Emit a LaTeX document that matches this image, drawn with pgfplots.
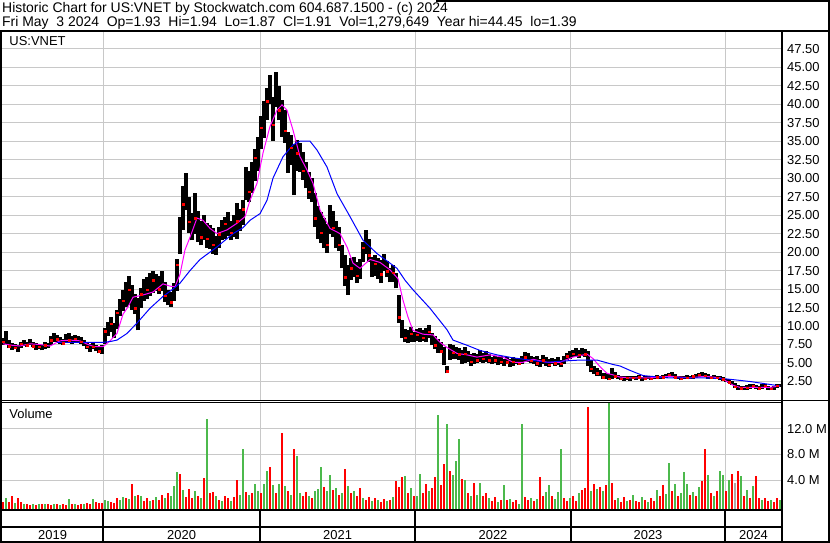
\documentclass[border=0pt]{standalone}
\usepackage{pgfplots}
\pgfplotsset{compat=1.18}
\usepackage{pgfplotstable}
\usepackage{fontspec}
\setmainfont{Liberation Sans}
\definecolor{gridgray}{RGB}{200,200,200}
\definecolor{volgreen}{RGB}{76,185,76}
\definecolor{volred}{RGB}{255,0,0}
\definecolor{volgray}{RGB}{170,170,170}
\definecolor{mablue}{RGB}{0,0,255}
\definecolor{mamag}{RGB}{255,0,255}

\pgfplotstableread{
x lo hi cl
3 7.5 8.4 7.9
6 7.6 9.3 8.2
9 7.0 8.1 7.3
12 6.8 7.7 7.0
15 6.9 7.6 7.1
18 6.5 7.4 6.8
21 7.0 7.9 7.6
24 7.3 8.1 7.6
27 7.2 7.9 7.4
30 7.4 8.2 7.8
33 7.1 7.9 7.3
36 6.8 7.7 7.0
39 6.9 7.6 7.2
42 6.7 7.5 6.9
45 6.9 7.8 7.4
48 7.0 7.7 7.2
51 7.5 8.6 8.1
54 7.9 9.0 8.6
57 7.9 8.8 8.2
60 7.6 8.5 7.9
63 7.5 8.3 7.7
66 7.8 8.9 8.4
69 7.7 9.0 8.1
72 7.6 8.7 8.0
75 7.9 8.8 8.3
78 7.8 8.6 8.1
81 7.6 8.5 7.9
84 7.3 8.1 7.5
87 6.9 7.8 7.2
90 6.5 7.6 6.8
93 6.9 7.7 7.2
96 6.6 7.4 6.9
99 6.3 7.2 6.6
102 6.2 7.4 7.0
105 7.6 9.8 9.3
108 8.6 10.6 9.8
111 9.2 11.2 10.3
114 8.4 10.4 9.0
117 9.6 12.2 11.8
120 11.4 13.7 12.6
123 12.0 14.9 13.4
126 12.6 16.0 14.6
129 12.9 16.8 14.9
132 12.2 15.6 13.1
135 11.6 14.4 12.4
138 9.4 13.8 12.8
141 12.4 15.2 14.3
144 13.4 16.4 15.1
147 13.6 16.6 14.9
150 14.0 17.2 15.6
153 14.5 17.5 16.2
156 14.8 17.1 15.4
159 14.4 16.7 15.0
162 14.8 17.4 16.3
165 13.3 15.9 14.1
168 12.8 14.9 13.5
171 12.6 14.6 13.2
174 13.4 15.8 14.9
177 14.8 19.0 18.3
180 19.8 24.7 23.8
183 23.0 29.0 26.5
186 25.7 30.7 27.3
189 22.6 27.4 24.1
192 21.6 25.3 22.8
195 22.4 28.0 24.6
198 21.4 25.6 22.3
201 20.9 24.2 22.0
204 21.6 25.0 23.1
207 20.6 24.0 21.8
210 20.4 23.6 21.2
213 19.8 23.2 21.0
216 19.6 22.2 20.3
219 20.6 23.4 22.4
222 21.6 24.4 23.2
225 21.8 24.8 23.8
228 22.2 25.4 24.0
231 21.6 24.2 22.6
234 22.0 25.0 23.4
237 21.8 26.6 24.2
240 22.8 25.8 24.9
243 23.6 27.0 25.8
246 27.0 31.5 29.0
249 26.8 31.0 28.2
252 28.0 32.2 30.6
255 29.6 34.0 32.8
258 31.0 35.6 34.2
261 34.0 38.4 36.8
264 35.4 40.4 38.6
267 37.8 42.2 40.4
270 40.0 43.9 41.5
273 35.0 41.0 37.2
276 39.6 44.4 42.4
279 37.8 42.4 39.2
282 35.6 40.6 37.2
285 34.8 39.2 36.4
288 30.7 36.2 32.4
291 31.8 35.8 34.1
294 27.7 34.6 31.5
297 31.0 35.1 33.4
300 30.8 34.8 32.2
303 29.8 33.6 31.0
306 28.6 32.2 29.4
309 27.2 30.8 28.2
312 26.8 30.0 27.6
315 23.4 28.0 24.6
318 21.8 26.2 23.2
321 21.2 25.4 22.6
324 20.6 24.6 21.4
327 19.9 23.8 21.0
330 22.4 26.4 24.6
333 22.0 25.6 23.3
336 20.6 24.2 21.6
339 20.2 23.4 21.0
342 17.8 21.0 18.6
345 15.4 19.6 16.6
348 14.2 18.2 15.8
351 16.2 19.2 17.8
354 16.6 19.4 17.6
357 15.8 18.6 16.8
360 16.4 19.0 17.8
363 18.6 21.4 20.6
366 19.8 23.0 21.8
369 18.6 21.8 19.6
372 16.6 19.4 17.2
375 16.8 19.6 18.4
378 16.4 19.2 17.6
381 15.8 18.9 17.0
384 17.4 19.7 18.6
387 16.6 18.8 17.4
390 15.9 17.9 16.6
393 16.0 18.2 17.2
396 15.1 17.2 15.6
399 10.4 14.2 11.2
402 8.4 10.8 9.2
405 7.8 9.6 8.4
408 7.7 9.4 8.2
411 7.9 9.9 9.0
414 7.8 9.2 8.2
417 8.0 9.6 8.8
420 7.9 9.7 9.2
423 8.0 9.4 8.4
426 7.8 9.8 8.9
429 8.4 10.1 9.2
432 7.4 9.0 7.9
435 6.9 8.6 7.4
438 6.4 8.2 7.0
441 6.3 7.8 6.6
444 4.7 7.1 5.2
447 3.6 4.6 3.9
450 5.4 7.6 6.8
453 5.6 7.4 6.4
456 5.5 7.2 6.0
459 5.4 7.0 6.2
462 4.9 6.8 5.6
465 5.0 7.1 6.3
468 5.2 6.6 5.8
471 4.6 6.2 5.2
474 4.8 6.4 5.6
477 5.0 6.2 5.4
480 5.2 6.7 6.0
483 5.0 6.4 5.6
486 5.2 6.6 6.0
489 5.0 6.2 5.4
492 4.8 5.8 5.2
495 5.0 6.0 5.4
498 4.7 5.8 5.0
501 4.8 5.9 5.2
504 4.6 5.6 4.9
507 4.8 5.8 5.1
510 4.5 5.6 4.8
513 4.6 5.8 5.2
516 4.8 5.7 5.0
519 4.7 5.6 4.9
522 4.8 6.0 5.4
525 5.1 6.5 5.8
528 5.2 6.4 5.6
531 5.0 6.0 5.3
534 4.9 5.8 5.2
537 4.6 5.9 5.0
540 4.4 5.6 4.8
543 4.8 6.1 5.4
546 4.6 5.8 5.0
549 4.5 5.5 4.8
552 4.8 5.7 5.2
555 4.6 5.6 5.0
558 4.7 5.8 5.2
561 4.5 5.4 4.9
564 4.8 5.9 5.4
567 5.4 6.4 5.9
570 5.6 6.6 6.0
573 5.8 6.8 6.3
576 5.9 7.0 6.4
579 5.7 6.8 6.1
582 5.9 7.0 6.5
585 5.8 6.9 6.2
588 4.6 6.6 5.0
591 3.8 5.4 4.2
594 3.5 4.6 3.8
597 3.3 4.3 3.6
600 3.2 4.0 3.4
603 2.9 3.7 3.1
606 2.8 3.6 3.0
609 2.7 3.5 2.9
612 2.9 4.3 3.6
615 3.0 3.8 3.2
618 2.8 3.4 3.0
621 2.7 3.3 2.9
624 2.6 3.2 2.8
627 2.7 3.3 3.0
630 2.6 3.2 2.8
633 2.8 3.3 3.0
636 2.7 3.2 2.9
639 2.8 3.4 3.1
642 2.6 3.1 2.8
645 2.7 3.2 2.9
648 2.8 3.3 3.0
651 2.7 3.3 2.9
654 2.8 3.2 3.0
657 2.9 3.4 3.1
660 2.8 3.3 3.0
663 2.9 3.4 3.1
666 3.0 3.5 3.2
669 3.1 3.7 3.4
672 3.2 3.8 3.5
675 3.0 3.5 3.1
678 2.8 3.3 3.0
681 2.7 3.2 2.9
684 2.8 3.3 3.1
687 2.9 3.4 3.0
690 2.8 3.3 3.0
693 2.9 3.4 3.2
696 3.0 3.5 3.2
699 3.1 3.7 3.4
702 3.2 3.8 3.6
705 3.1 3.7 3.3
708 2.9 3.5 3.1
711 2.8 3.3 3.0
714 2.9 3.4 3.1
717 2.8 3.3 3.0
720 2.7 3.2 2.9
723 2.6 3.1 2.8
726 2.4 2.9 2.5
729 2.3 2.8 2.4
732 2.0 2.6 2.2
735 1.6 2.3 1.8
738 1.4 2.0 1.6
741 1.4 1.9 1.6
744 1.3 1.9 1.5
747 1.4 2.0 1.7
750 1.5 2.1 1.8
753 1.6 2.2 1.9
756 1.5 2.0 1.7
759 1.4 1.9 1.6
762 1.5 2.1 1.8
765 1.6 2.1 1.9
768 1.4 1.9 1.6
771 1.3 1.8 1.5
774 1.4 1.9 1.7
777 1.6 2.1 1.9
780 1.8 2.2 1.9
}\price

\pgfplotstableread{
x v
3 0.6
9 0.7
12 1.5
18 1.3
21 0.6
27 0.3
30 0.2
36 0.2
42 0.3
48 0.3
51 0.2
57 0.3
63 0.3
66 0.2
72 0.3
78 0.2
81 0.4
87 0.5
90 0.4
96 0.6
99 0.5
102 0.5
111 0.6
114 0.5
117 1.3
126 1.3
132 3.5
138 1.8
144 0.8
147 1.2
153 1.0
159 0.9
162 1.8
168 2.1
180 5.0
186 1.4
189 2.6
192 1.2
198 1.5
204 4.3
210 2.1
213 2.2
219 1.0
225 1.6
228 1.2
234 1.4
237 4.0
246 2.2
252 2.0
261 2.1
270 6.0
276 2.0
282 11.3
288 2.4
294 8.8
303 1.6
306 2.2
312 1.3
324 2.9
333 2.5
339 1.7
345 5.7
351 2.0
357 1.5
360 2.8
366 1.0
369 1.4
375 1.2
381 0.6
384 1.1
390 1.0
396 3.9
399 3.0
402 4.5
408 2.0
414 1.5
423 2.0
426 3.5
432 2.8
435 4.5
441 3.2
444 6.6
450 5.5
462 4.2
468 2.0
474 3.6
483 1.6
486 2.0
492 0.8
495 1.4
501 1.0
507 0.9
513 0.6
516 1.0
525 1.4
528 1.0
534 0.8
540 4.5
543 1.6
552 1.5
564 1.2
567 0.8
573 1.6
576 0.8
582 2.5
585 2.8
588 15.3
594 3.5
600 3.0
606 3.3
612 3.6
615 1.0
621 0.6
624 1.4
630 1.0
636 0.8
639 0.6
645 0.9
651 1.2
654 0.8
660 1.5
663 3.3
672 2.4
678 1.6
690 1.7
696 1.5
702 3.9
705 8.9
711 2.0
717 2.4
726 2.3
732 5.0
738 5.4
744 1.6
750 1.2
756 4.7
759 1.2
765 1.3
768 0.8
774 0.7
777 1.2
}\volred

\pgfplotstableread{
x v
6 1.3
15 0.5
24 0.4
33 0.3
39 0.3
45 0.4
54 0.3
60 0.2
69 1.1
75 0.3
84 0.4
93 1.1
105 1.0
108 0.8
120 1.0
123 1.4
129 1.1
135 1.6
141 1.5
150 0.8
156 1.4
165 1.2
171 1.6
174 3.1
177 5.3
183 2.5
195 2.3
201 1.3
207 13.5
216 1.5
222 0.8
231 0.8
240 1.7
243 8.8
249 1.7
255 3.4
258 2.4
264 3.4
267 5.4
273 3.2
279 3.4
285 3.1
291 1.8
297 7.7
300 2.0
309 1.5
315 2.4
318 2.6
321 6.1
327 2.4
330 4.8
336 2.8
342 2.0
348 3.1
354 2.4
363 1.3
372 0.8
378 1.0
387 0.8
393 1.4
405 4.6
411 2.8
417 1.5
420 5.0
429 2.4
438 14.1
447 12.7
453 4.9
456 7.0
459 10.4
465 4.1
471 1.6
477 1.8
480 3.6
489 1.2
498 0.6
504 3.3
510 1.1
519 0.4
522 12.8
531 1.2
537 1.1
546 2.2
549 3.3
555 1.1
558 2.2
561 8.8
570 1.3
579 2.0
591 2.4
597 2.6
603 2.3
609 16.0
618 1.2
627 0.8
633 1.7
642 1.4
648 0.6
657 2.5
666 1.9
669 6.7
675 3.5
681 2.0
684 5.3
687 3.5
693 2.2
699 3.0
708 4.8
714 1.5
720 5.5
723 4.8
729 4.0
741 4.6
747 2.5
753 3.1
762 1.0
771 1.0
780 0.9
}\volgreen

\pgfplotstableread{
x v
735 3.6
}\volgray

\begin{document}
\begin{tikzpicture}[x=1bp,y=1bp]
\useasboundingbox (0,0) rectangle (830,543);
\fill[white] (0,0) rectangle (830,543);

% ---------------- price panel
\begin{axis}[
  at={(2bp,143bp)}, anchor=south west, scale only axis,
  width=779bp, height=369bp,
  xmin=2, xmax=781, ymin=0, ymax=49.9,
  axis line style={draw=none}, tick style={draw=none},
  xtick={103.3,260,415.3,570.7,725.3}, xticklabels={},
  ytick={2.5,5,7.5,10,12.5,15,17.5,20,22.5,25,27.5,30,32.5,35,37.5,40,42.5,45,47.5},
  yticklabel pos=right,
  yticklabel style={anchor=west, inner sep=0pt, xshift=6bp, font=\fontsize{13}{13}\selectfont,
     /pgf/number format/.cd, fixed, fixed zerofill, precision=2, assume math mode=true},
  grid=major, major grid style={draw=gridgray, line width=1bp},
]
\addplot[draw=none, mark=none, forget plot,
  error bars/.cd, y dir=plus, y explicit, error mark=none,
  error bar style={line width=3.1bp, draw=black, solid}]
  table[x=x, y=lo, y error plus expr=\thisrow{hi}-\thisrow{lo}] {\price};
\addplot[only marks, mark=square*, mark size=0.7bp, red, forget plot, each nth point=2]
  table[x=x, y=cl] {\price};
\addplot[mamag, line width=1bp] coordinates {
(3,7.6) (12,7.4) (20,7.3) (30,7.6) (40,7.5) (50,7.3) (60,8.0) (70,8.1) (80,8.0) (88,7.5) (95,7.2) (103,7.2) (110,8.0) (117,9.0) (123,11.6) (128,12.6) (133,13.9) (143,14.2) (153,14.6) (163,15.7) (170,15.4) (175,15.3) (180,17.0) (185,20.3) (190,22.0) (197,24.6) (203,24.3) (210,23.2) (217,22.5) (227,23.0) (237,23.9) (245,24.8) (250,27.0) (257,29.3) (263,33.4) (270,37.0) (277,39.2) (282,39.9) (287,39.2) (293,36.5) (300,32.9) (307,31.1) (313,29.3) (320,25.7) (330,23.2) (340,22.5) (347,20.7) (353,18.5) (360,17.8) (370,19.0) (380,18.6) (390,17.6) (398,16.4) (403,13.5) (408,11.2) (413,9.4) (423,8.9) (433,8.8) (440,7.8) (447,7.1) (457,6.3) (467,6.1) (477,5.8) (490,6.1) (503,5.8) (513,5.1) (523,5.1) (533,5.5) (547,5.1) (560,5.1) (573,5.8) (587,6.2) (593,5.6) (600,4.5) (607,3.6) (613,3.4) (620,3.1) (630,3.0) (650,3.0) (670,3.2) (690,3.0) (705,3.2) (720,3.0) (727,2.5) (733,2.0) (740,1.7) (755,1.7) (770,1.7) (780,1.9)
};
\addplot[mablue, line width=1bp] coordinates {
(57,7.8) (70,7.8) (90,7.8) (103,7.8) (110,7.9) (117,8.1) (127,9.0) (137,10.4) (150,12.4) (163,14.0) (173,15.0) (180,15.8) (190,17.5) (200,19.0) (210,20.0) (217,20.7) (225,21.6) (233,22.5) (243,23.3) (250,24.3) (260,25.2) (267,27.0) (273,30.0) (283,32.9) (293,34.5) (300,35.0) (310,35.0) (317,33.8) (327,31.5) (337,27.9) (350,24.8) (363,21.6) (377,19.8) (385,19.0) (397,17.8) (405,16.2) (413,14.9) (430,12.4) (447,9.5) (453,8.1) (467,7.4) (480,6.7) (497,6.1) (513,5.7) (530,5.4) (547,5.1) (567,5.3) (580,5.4) (597,5.4) (613,4.8) (620,4.6) (630,4.0) (643,3.3) (667,3.0) (700,3.0) (723,2.9) (750,2.5) (780,1.9)
};
\end{axis}

% ---------------- volume panel
\begin{axis}[
  at={(2bp,33bp)}, anchor=south west, scale only axis,
  width=779bp, height=108bp,
  xmin=2, xmax=781, ymin=-0.6, ymax=16.14,
  axis line style={draw=none}, tick style={draw=none},
  xtick={103.3,260,415.3,570.7,725.3}, xticklabels={},
  ytick={4,8,12}, yticklabels={4.0 M,8.0 M,12.0 M},
  yticklabel pos=right,
  yticklabel style={anchor=west, inner sep=0pt, xshift=6bp, font=\fontsize{13}{13}\selectfont},
  grid=major, major grid style={draw=gridgray, line width=1bp},
]
\addplot[draw=none, mark=none, forget plot,
  error bars/.cd, y dir=plus, y explicit, error mark=none,
  error bar style={line width=2.8bp, draw=volred, solid}]
  table[x=x, y expr=-0.6, y error plus expr=\thisrow{v}+0.6] {\volred};
\addplot[draw=none, mark=none, forget plot,
  error bars/.cd, y dir=plus, y explicit, error mark=none,
  error bar style={line width=2.8bp, draw=volgreen, solid}]
  table[x=x, y expr=-0.6, y error plus expr=\thisrow{v}+0.6] {\volgreen};
\addplot[draw=none, mark=none, forget plot,
  error bars/.cd, y dir=plus, y explicit, error mark=none,
  error bar style={line width=2.8bp, draw=volgray, solid}]
  table[x=x, y expr=-0.6, y error plus expr=\thisrow{v}+0.6] {\volgray};
\end{axis}

% ---------------- frame and separators
\draw[line width=2bp] (0,512) -- (830,512);
\draw[line width=1bp] (0,142.5) -- (830,142.5);
\draw[line width=1bp] (0,140.5) -- (781,140.5);
\draw[line width=2bp] (0,32.5) -- (781,32.5);
\draw[line width=2bp] (0,16) -- (781,16);
\draw[line width=2bp] (0,1) -- (830,1);
\draw[line width=2bp] (1,0) -- (1,512);
\draw[line width=2bp] (829,0) -- (829,543);
\draw[line width=2bp] (436,542) -- (830,542);
\draw[line width=2.5bp] (782,0) -- (782,512);
\foreach \xx in {103.3,260,415.3,570.7,725.3}
  \draw[line width=2bp] (\xx,0) -- (\xx,33);

% ---------------- texts
\begin{scope}[font=\fontsize{14}{14}\selectfont]
\node[anchor=base west, inner sep=0pt] at (2,530.7) {Historic Chart for US:VNET by Stockwatch.com 604.687.1500 - (c) 2024};
\node[anchor=base west, inner sep=0pt] at (2,516.3) {Fri May\ \ 3 2024\ \ Op=1.93\ \ Hi=1.94\ \ Lo=1.87\ \ Cl=1.91\ \ Vol=1,279,649\ \ Year hi=44.45\ \ lo=1.39};
\end{scope}
\begin{scope}[font=\fontsize{13}{13}\selectfont]
\node[anchor=base west, inner sep=0pt] at (9.3,497.3) {US:VNET};
\node[anchor=base west, inner sep=0pt] at (9.3,124.7) {Volume};
\node[anchor=base, inner sep=0pt] at (52.6,3.3) {2019};
\node[anchor=base, inner sep=0pt] at (181.6,3.3) {2020};
\node[anchor=base, inner sep=0pt] at (337.6,3.3) {2021};
\node[anchor=base, inner sep=0pt] at (493,3.3) {2022};
\node[anchor=base, inner sep=0pt] at (648,3.3) {2023};
\node[anchor=base, inner sep=0pt] at (753.5,3.3) {2024};
\end{scope}
\end{tikzpicture}
\end{document}
